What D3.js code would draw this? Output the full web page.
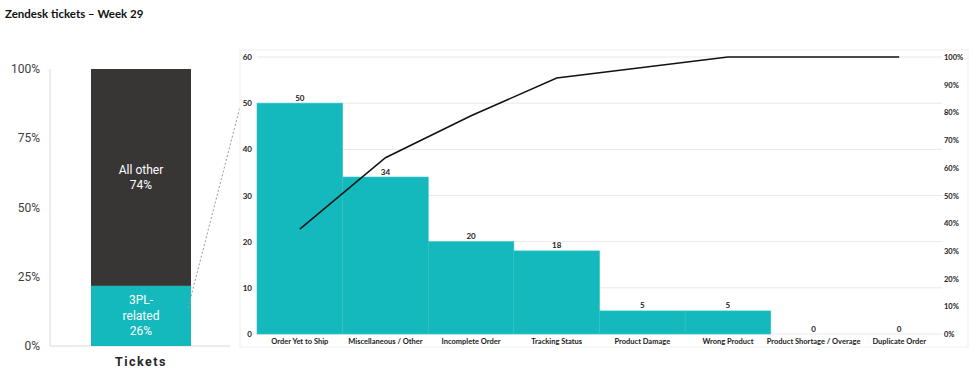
<!DOCTYPE html>
<html>
<head>
<meta charset="utf-8">
<script src="https://cdn.jsdelivr.net/npm/d3@7"></script>
<style>
  body { margin: 0; background: #fff; }
  svg { display: block; }
</style>
</head>
<body>
<svg id="chart" width="974" height="373"></svg>
<script>
// left stacked bar (shares) and its printed labels
var shareKeys = ["3PL-related", "All other"];
var shareValues = [0.217, 0.783];
var shareLabels = [["3PL-", "related", "26%"], ["All other", "74%"]];
var shareTicks = [0, 0.25, 0.5, 0.75, 1];

// pareto of the 3PL tickets
var categories = ["Order Yet to Ship", "Miscellaneous / Other", "Incomplete Order", "Tracking Status",
                  "Product Damage", "Wrong Product", "Product Shortage / Overage", "Duplicate Order"];
var counts = [50, 34, 20, 18, 5, 5, 0, 0];
var countTicks = [0, 10, 20, 30, 40, 50, 60];
var pctTicks = [0, 0.1, 0.2, 0.3, 0.4, 0.5, 0.6, 0.7, 0.8, 0.9, 1];

var teal = "#13b9bc", dark = "#383635";
var svg = d3.select("#chart");

svg.append("text")
    .attr("x", 5).attr("y", 18)
    .attr("font-family", "Lato, sans-serif").attr("font-weight", 700)
    .attr("font-size", 11.5).attr("fill", "#111")
    .text("Zendesk tickets \u2013 Week 29");

// ---- left chart
var ly = d3.scaleLinear().domain([0, 1]).range([346, 69]);
var lx0 = 91, lx1 = 191;

var left = svg.append("g").attr("font-family", "Roboto, 'Liberation Sans', sans-serif");

left.append("line").attr("x1", 50).attr("x2", 50).attr("y1", 69).attr("y2", 346)
    .attr("stroke", "#d9d9d9");
left.append("line").attr("x1", 50).attr("x2", 230).attr("y1", 346).attr("y2", 346)
    .attr("stroke", "#d9d9d9");

left.selectAll(".lt").data(shareTicks).enter().append("text")
    .attr("x", 40).attr("y", function(d) { return ly(d) + 4; })
    .attr("text-anchor", "end").attr("font-size", 12).attr("fill", "#404040")
    .text(d3.format(".0%"));

var stack = [];
var acc = 0;
shareValues.forEach(function(v, i) { stack.push({ key: shareKeys[i], y0: acc, y1: acc + v, lab: shareLabels[i] }); acc += v; });

left.selectAll(".seg").data(stack).enter().append("rect")
    .attr("x", lx0).attr("width", lx1 - lx0)
    .attr("y", function(d) { return ly(d.y1); })
    .attr("height", function(d) { return ly(d.y0) - ly(d.y1); })
    .attr("fill", function(d, i) { return i == 0 ? teal : dark; });

stack.forEach(function(d) {
  var mid = (ly(d.y0) + ly(d.y1)) / 2;
  var n = d.lab.length;
  d.lab.forEach(function(t, j) {
    left.append("text")
        .attr("x", (lx0 + lx1) / 2)
        .attr("y", mid + (j - (n - 1) / 2) * 15.5 + 4)
        .attr("text-anchor", "middle").attr("font-size", 12).attr("fill", "#fff")
        .text(t);
  });
});

left.append("text")
    .attr("x", (lx0 + lx1) / 2).attr("y", 366)
    .attr("text-anchor", "middle").attr("font-size", 12.5).attr("font-weight", 700)
    .attr("letter-spacing", 1.5).attr("fill", "#262626")
    .text("Tickets");

// dotted connector
svg.append("line").attr("x1", 188).attr("y1", 308).attr("x2", 240).attr("y2", 107)
    .attr("stroke", "#999").attr("stroke-dasharray", "2,2");

// ---- right chart (pareto)
var px0 = 257, px1 = 942, pyTop = 57, pyBot = 334;
var x = d3.scaleBand().domain(categories).range([px0, px1]).padding(0);
var y = d3.scaleLinear().domain([0, 60]).range([pyBot, pyTop]);
var yp = d3.scaleLinear().domain([0, 1]).range([pyBot, pyTop]);

var right = svg.append("g").attr("font-family", "Lato, 'Open Sans', sans-serif");

right.append("rect").attr("x", 240).attr("y", 50).attr("width", 728).attr("height", 297)
    .attr("fill", "none").attr("stroke", "#f0f0f0");

right.append("g").selectAll("line").data(countTicks).enter().append("line")
    .attr("x1", px0).attr("x2", px1)
    .attr("y1", function(d) { return y(d); }).attr("y2", function(d) { return y(d); })
    .attr("stroke", "#e9e9e9");

right.selectAll(".bar").data(counts).enter().append("rect")
    .attr("x", function(d, i) { return x(categories[i]); })
    .attr("width", x.bandwidth())
    .attr("y", function(d) { return y(d); })
    .attr("height", function(d) { return pyBot - y(d); })
    .attr("fill", teal).attr("stroke", "#2ec4c6").attr("stroke-width", 0.6);

right.selectAll(".val").data(counts).enter().append("text")
    .attr("x", function(d, i) { return x(categories[i]) + x.bandwidth() / 2; })
    .attr("y", function(d) { return y(d) - 2.5; })
    .attr("text-anchor", "middle").attr("font-size", 8).attr("font-weight", 700).attr("fill", "#222")
    .text(function(d) { return d; });

right.selectAll(".cat").data(categories).enter().append("text")
    .attr("x", function(d) { return x(d) + x.bandwidth() / 2; })
    .attr("y", 344)
    .attr("text-anchor", "middle").attr("font-size", 7.5).attr("font-weight", 700).attr("fill", "#222")
    .text(function(d) { return d; });

right.selectAll(".yl").data(countTicks).enter().append("text")
    .attr("x", 252).attr("y", function(d) { return y(d) + 3; })
    .attr("text-anchor", "end").attr("font-size", 8).attr("font-weight", 700).attr("fill", "#222")
    .text(function(d) { return d; });

right.selectAll(".yr").data(pctTicks).enter().append("text")
    .attr("x", 944).attr("y", function(d) { return yp(d) + 3; })
    .attr("font-size", 7.5).attr("font-weight", 700).attr("fill", "#222")
    .text(d3.format(".0%"));

var total = d3.sum(counts);
var cum = [];
var run = 0;
counts.forEach(function(c, i) { run += c; cum.push({ cat: categories[i], p: run / total }); });

right.append("path").datum(cum)
    .attr("fill", "none").attr("stroke", "#111").attr("stroke-width", 1.5)
    .attr("d", d3.line()
        .x(function(d) { return x(d.cat) + x.bandwidth() / 2; })
        .y(function(d) { return yp(d.p); }));
</script>
</body>
</html>
